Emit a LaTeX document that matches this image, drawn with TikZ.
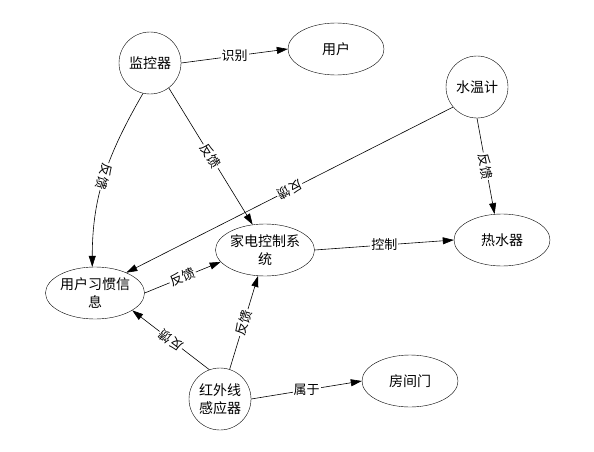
\documentclass[tikz,border=0pt]{standalone}
\usepackage{fontspec}
\setmainfont{Noto Sans CJK SC}
\usetikzlibrary{arrows.meta,shapes.geometric}

\begin{document}
\begin{tikzpicture}[
 x=1pt,y=1pt,
 circ/.style={draw,circle,minimum size=62pt,inner sep=0pt,align=center,font=\fontsize{14}{18}\selectfont},
 ell/.style={draw,ellipse,minimum width=96pt,minimum height=52pt,inner sep=0pt,align=center,font=\fontsize{14}{18}\selectfont},
 arrow/.style={-{Triangle[length=11pt,width=7pt]},line width=0.6pt},
 lbl/.style={fill=white,inner sep=1pt,font=\fontsize{13}{14}\selectfont}
]
\useasboundingbox[fill=white] (0,0) rectangle (594,451);
\node[circ] (jk) at (150,388) {监控器};
\node[ell] (yh) at (336,402) {用户};
\node[circ] (swj) at (477,364) {水温计};
\node[ell] (rsq) at (502,211) {热水器};
\node[ell] (jd) at (265,201) {家电控制系\\统};
\node[ell] (xg) at (95,158) {用户习惯信\\息};
\node[circ] (hw) at (220,52) {红外线\\感应器};
\node[ell] (fm) at (410,70) {房间门};
\draw[arrow] (jk.east)--node[lbl]{识别} (yh.west);
\draw[arrow] (jk.-103) to[out=-120,in=90] node[lbl,sloped,allow upside down]{反馈} (xg.96);
\draw[arrow] (jk.-53)--node[lbl,sloped]{反馈} (jd.116);
\draw[arrow] (swj.-140)--node[lbl,sloped,allow upside down]{反馈} (xg.33);
\draw[arrow] (swj.south)--node[lbl,sloped]{反馈} (rsq.106);
\draw[arrow] (xg.east)--node[lbl,sloped]{反馈} (jd.195);
\draw[arrow] (jd.east)--node[lbl]{控制} (rsq.west);
\draw[arrow] (hw.110)--node[lbl,sloped,allow upside down]{反馈} (xg.-25);
\draw[arrow] (hw.72)--node[lbl,sloped]{反馈} (jd.-105);
\draw[arrow] (hw.east)--node[lbl]{属于} (fm.west);
\end{tikzpicture}
\end{document}
